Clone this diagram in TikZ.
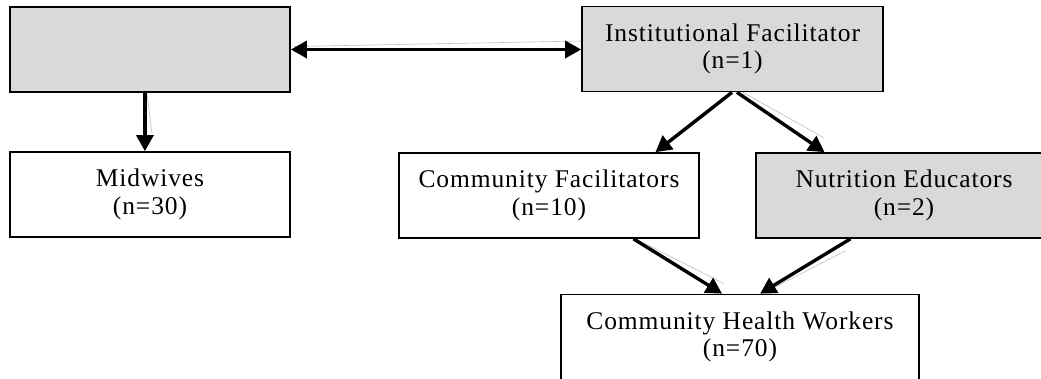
\documentclass[tikz,border=0pt]{standalone}
\usepackage{fontspec}
\setmainfont[LetterSpace=3.5]{Liberation Serif}
\usetikzlibrary{arrows.meta,calc}
\definecolor{boxgray}{RGB}{217,217,217}
\begin{document}
\begin{tikzpicture}[x=1pt,y=-1pt,
  box/.style={draw=black,line width=1.7pt,minimum height=85pt,inner sep=0pt,align=center,
    font=\fontsize{25.5}{27.5}\selectfont},
  graybox/.style={box,fill=boxgray},
  whitebox/.style={box,fill=white},
  conn/.style={line width=3.4pt,-{Triangle[length=16pt,width=17pt]}},
  biconn/.style={line width=3.4pt,{Triangle[length=16pt,width=17pt]}-{Triangle[length=16pt,width=17pt]}},
  ghost/.style={draw=black!25,line width=0.6pt}]
\useasboundingbox (0,0) rectangle (1041,378);
\clip (0,0) rectangle (1041,378);
\fill[white] (0,0) rectangle (1041,378);
\node[graybox,minimum width=280pt] (A) at (150,49.5) {};
\node[graybox,minimum width=301pt] (IF) at (732.5,49) {Institutional Facilitator\\(n=1)};
\node[whitebox,minimum width=280pt] (MW) at (150,194.5) {Midwives\\(n=30)};
\node[whitebox,minimum width=300pt] (CF) at (549,195.5) {Community Facilitators\\(n=10)};
\node[graybox,minimum width=296pt] (NE) at (904,195.5) {Nutrition Educators\\(n=2)};
\node[whitebox,minimum width=358pt] (CHW) at (740,337) {Community Health Workers\\(n=70)};
% faint ghost lines
\coordinate (g1) at ($(A.east)+(3,-3)$);
\coordinate (g2) at ($(IF.west)+(0,-8)$);
\draw[ghost] (g1) -- (g2);
\coordinate (a1) at ($(A.south west)!0.482!(A.south east)$);
\coordinate (m1) at ($(MW.north west)!0.482!(MW.north east)$);
\draw[ghost] ($(a1)+(2,0)$) -- ($(m1)+(7,-18)$);
\coordinate (i1) at ($(IF.south)+(-0.5,0)$);
\coordinate (i2) at ($(IF.south)+(4.5,0)$);
\coordinate (c1) at ($(CF.north west)!0.853!(CF.north east)$);
\coordinate (n1) at ($(NE.north west)!0.233!(NE.north east)$);
\draw[ghost] ($(i1)+(-20,18)$) -- ($(c1)+(7,-4)$);
\draw[ghost] ($(i2)+(6,0)$) -- ($(n1)+(0,-14)$);
\coordinate (c2) at ($(CF.south west)!0.78!(CF.south east)$);
\coordinate (n2) at ($(NE.south west)!0.32!(NE.south east)$);
\coordinate (h1) at ($(CHW.north west)!0.45!(CHW.north east)$);
\coordinate (h2) at ($(CHW.north west)!0.556!(CHW.north east)$);
\draw[ghost] ($(c2)+(6,2)$) -- ($(h1)+(2,-10)$);
\draw[ghost] ($(n2)+(-5,12)$) -- ($(h2)+(10,-4)$);
% connectors
\draw[biconn] (A.east) -- (A.east -| IF.west);
\draw[conn] (a1) -- (m1);
\draw[conn] (i1) -- (c1);
\draw[conn] (i2) -- (n1);
\draw[conn] (c2) -- (h1);
\draw[conn] (n2) -- (h2);
\end{tikzpicture}
\end{document}
